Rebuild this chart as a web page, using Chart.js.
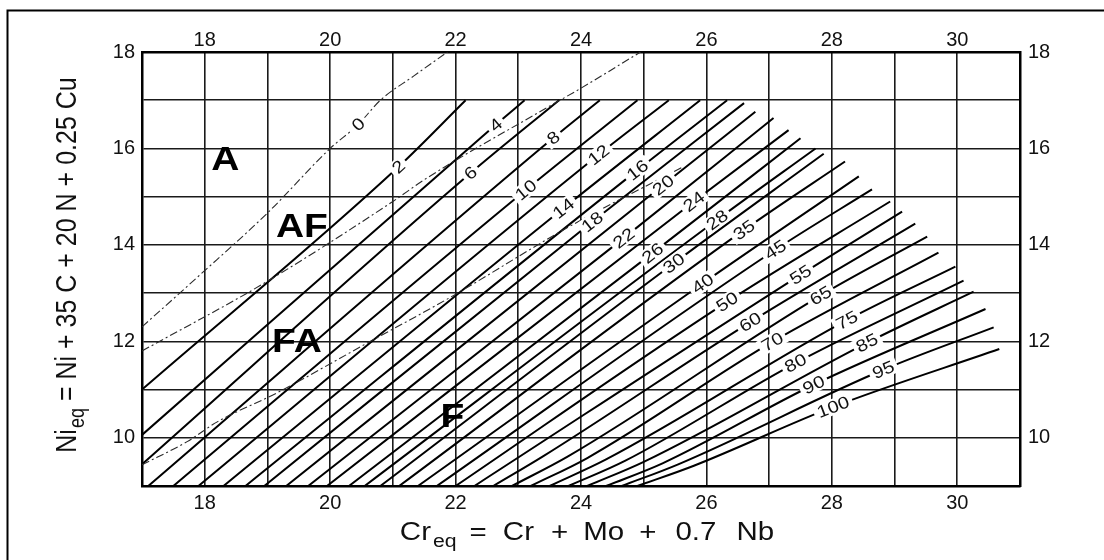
<!DOCTYPE html>
<html>
<head>
<meta charset="utf-8">
<script src="https://cdn.jsdelivr.net/npm/chart.js@4.4.1/dist/chart.umd.min.js"></script>
<style>
  html, body { margin: 0; padding: 0; background: #fff; }
  canvas { display: block; }
</style>
</head>
<body>
<canvas id="wrc" width="1104" height="560"></canvas>
<script>
// Iso-ferrite-number lines of the constitution diagram (Cr_eq vs Ni_eq).
const FN_LEVELS = [2, 4, 6, 8, 10, 12, 14, 16, 18, 20, 22, 24, 26, 28, 30,
                   35, 40, 45, 50, 55, 60, 65, 70, 75, 80, 85, 90, 95, 100];

// Where each line leaves the lower / left border.
const START_CR = [17, 17, 17, 17.1, 17.5, 17.9, 18.3, 18.65, 18.95, 19.3, 19.65, 19.95, 20.3, 20.55, 20.8,
                  21.1, 21.4, 21.7, 22.0, 22.3, 22.6, 22.9, 23.2, 23.5, 23.8, 24.1, 24.4, 24.65, 24.9];
const START_NI = [11.0, 10.06, 9.45, 9, 9, 9, 9, 9, 9, 9, 9, 9, 9, 9, 9,
                  9, 9, 9, 9, 9, 9, 9, 9, 9, 9, 9, 9, 9, 9];

// Lower bend of the high-FN lines, which run flatter near the bottom border (null = straight).
const BEND_CR = [null, null, null, null, null, null, null, null, null, null, null, null, null, null, null,
                 null, null, null, null, null, 23.4, 23.8, 24.1, 24.4, 24.7, 25.0, 25.3, 25.55, 25.8];
const BEND_NI = [null, null, null, null, null, null, null, null, null, null, null, null, null, null, null,
                 null, null, null, null, null, 9.62, 9.62, 9.58, 9.55, 9.52, 9.5, 9.47, 9.45, 9.42];

// Point on each line where its FN value is written.
const LABEL_CR = [21.09, 22.64, 22.24, 23.56, 23.12, 24.28, 23.72, 24.9, 24.18, 25.31, 24.68, 25.8, 25.14, 26.17, 25.48,
                  26.6, 25.94, 27.1, 26.33, 27.5, 26.7, 27.82, 27.05, 28.24, 27.42, 28.56, 27.71, 28.82, 28.02];
const LABEL_NI = [15.62, 16.49, 15.49, 16.22, 15.14, 15.87, 14.76, 15.55, 14.48, 15.24, 14.14, 14.9, 13.83, 14.52, 13.62,
                  14.31, 13.2, 13.9, 12.82, 13.38, 12.4, 12.95, 11.99, 12.44, 11.55, 11.97, 11.1, 11.41, 10.64];

// Upper-right end of each line.
const END_CR = [22.16, 23.1, 23.65, 24.3, 24.9, 25.4, 25.9, 26.33, 26.6, 26.78, 27.07, 27.31, 27.5, 27.74, 27.87,
                28.21, 28.43, 28.64, 28.93, 29.12, 29.33, 29.52, 29.7, 29.97, 30.1, 30.26, 30.45, 30.58, 30.67];
const END_NI = [17, 17, 17, 17, 17, 17, 17, 17.0, 16.94, 16.76, 16.63, 16.38, 16.21, 16.0, 15.89,
                15.73, 15.42, 15.15, 14.9, 14.69, 14.44, 14.17, 13.84, 13.55, 13.26, 13.03, 12.67, 12.29, 11.84];

// Solidification-mode boundaries (dash-dot curves).
const A_AF_CR = [17, 17.9, 19.0, 20.0, 20.45, 20.8, 21.33, 21.87];
const A_AF_NI = [12.3, 13.35, 14.66, 16.0, 16.5, 17.0, 17.5, 18.0];
const A_AF_LABEL_INDEX = 4;      // the "0" FN label sits on this vertex
const AF_FA_CR = [17, 18.94, 21.0, 21.5, 23.3, 24.0, 24.95];
const AF_FA_NI = [11.8, 13.2, 14.9, 15.35, 16.73, 17.25, 18.0];
const FA_F_CR = [17, 17.72, 18.2, 19.15, 20.6, 21.9, 23.8, 25.6];
const FA_F_NI = [9.44, 9.92, 10.33, 10.93, 11.97, 12.9, 14.37, 15.6];

// Solidification-mode region names.
const PHASE_NAMES = ['A', 'AF', 'FA', 'F'];
const PHASE_CR = [18.33, 19.55, 19.47, 21.95];
const PHASE_NI = [15.76, 14.38, 11.99, 10.43];

// Axis ranges and labelled ticks.
const CR_RANGE = [17, 31];
const NI_RANGE = [9, 18];
const CR_TICKS = [18, 20, 22, 24, 26, 28, 30];
const NI_TICKS = [10, 12, 14, 16, 18];

const FONT = '"Liberation Sans", Arial, Helvetica, sans-serif';
const STRETCH = 1.18;   // the printed lettering is slightly wide

function pts(xs, ys) { return xs.map((x, i) => ({ x: x, y: ys[i] })); }

const datasets = [];
[[A_AF_CR, A_AF_NI], [AF_FA_CR, AF_FA_NI], [FA_F_CR, FA_F_NI]].forEach(([xs, ys]) => {
  datasets.push({
    data: pts(xs, ys), showLine: true, borderColor: '#2a2a2a', borderWidth: 1.1,
    borderDash: [8, 3, 2, 3], pointRadius: 0, cubicInterpolationMode: 'monotone', fill: false
  });
});
const FIRST_FN = datasets.length;
const LABEL_VERTEX = [];
FN_LEVELS.forEach((fn, i) => {
  const line = [{ x: START_CR[i], y: START_NI[i] }];
  if (BEND_CR[i] !== null) line.push({ x: BEND_CR[i], y: BEND_NI[i] });
  LABEL_VERTEX.push(line.length);
  line.push({ x: LABEL_CR[i], y: LABEL_NI[i] });
  line.push({ x: END_CR[i], y: END_NI[i] });
  datasets.push({
    data: line, showLine: true, borderColor: '#000', borderWidth: 2, pointRadius: 0,
    cubicInterpolationMode: 'monotone', fill: false
  });
});

function tangentAngle(pt, prev, next) {
  if (pt.cp1x !== undefined && pt.cp2x !== undefined &&
      (pt.cp2x !== pt.cp1x || pt.cp2y !== pt.cp1y)) {
    return Math.atan2(pt.cp2y - pt.cp1y, pt.cp2x - pt.cp1x);
  }
  return Math.atan2(next.y - prev.y, next.x - prev.x);
}

function drawLineLabel(ctx, text, x, y, ang) {
  ctx.save();
  ctx.translate(x, y);
  ctx.rotate(ang);
  ctx.scale(STRETCH, 1);
  const w = ctx.measureText(text).width;
  ctx.fillStyle = '#fff';
  ctx.fillRect(-w / 2 - 3, -8, w + 6, 16);
  ctx.fillStyle = '#111';
  ctx.fillText(text, 0, 1);
  ctx.restore();
}

const decorations = {
  id: 'decorations',
  beforeDraw(chart) {
    const ctx = chart.ctx;
    ctx.save();
    ctx.fillStyle = '#fff';
    ctx.fillRect(0, 0, chart.width, chart.height);
    // page frame
    ctx.strokeStyle = '#000';
    ctx.lineWidth = 2;
    ctx.beginPath();
    ctx.moveTo(7.5, chart.height + 5);
    ctx.lineTo(7.5, 10.5);
    ctx.lineTo(chart.width + 5, 10.5);
    ctx.stroke();
    ctx.restore();
  },
  afterDatasetsDraw(chart) {
    const ctx = chart.ctx;
    const xs = chart.scales.x, ys = chart.scales.y;
    ctx.save();
    ctx.font = '17px ' + FONT;
    ctx.textAlign = 'center';
    ctx.textBaseline = 'middle';

    // FN value on every iso-ferrite line
    FN_LEVELS.forEach((fn, i) => {
      const el = chart.getDatasetMeta(FIRST_FN + i).data;
      const k = LABEL_VERTEX[i];
      drawLineLabel(ctx, String(fn), el[k].x, el[k].y, tangentAngle(el[k], el[k - 1], el[k + 1]));
    });
    // FN 0 on the austenite boundary
    const z = chart.getDatasetMeta(0).data;
    const k = A_AF_LABEL_INDEX;
    drawLineLabel(ctx, '0', z[k].x, z[k].y, tangentAngle(z[k], z[k - 1], z[k + 1]));

    // region names
    ctx.font = 'bold 33px ' + FONT;
    ctx.fillStyle = '#000';
    PHASE_NAMES.forEach((name, i) => {
      const px = xs.getPixelForValue(PHASE_CR[i]);
      const py = ys.getPixelForValue(PHASE_NI[i]);
      ctx.save();
      ctx.translate(px, py + 1);
      ctx.scale(STRETCH, 1);
      ctx.fillText(name, 0, 0);
      ctx.restore();
    });
    ctx.restore();
  },
  afterDraw(chart) {
    const ctx = chart.ctx;
    const area = chart.chartArea;
    ctx.save();
    ctx.fillStyle = '#111';
    ctx.textBaseline = 'alphabetic';
    ctx.textAlign = 'left';

    // x-axis title: Cr_eq = Cr + Mo + 0.7 Nb
    const big = '25px ' + FONT, sub = '18px ' + FONT;
    const xTokens = [['Cr', big, 0], ['eq', sub, 7], ['=', big, 0], ['Cr', big, 0], ['+', big, 0],
                     ['Mo', big, 0], ['+', big, 0], ['0.7', big, 0], ['Nb', big, 0]];
    const gaps = [2, 13, 16, 17, 15, 15, 19, 20];
    let widths = xTokens.map(t => { ctx.font = t[1]; return ctx.measureText(t[0]).width * STRETCH; });
    let total = widths.reduce((a, b) => a + b, 0) + gaps.reduce((a, b) => a + b, 0);
    let cx = (area.left + area.right) / 2 - total / 2 + 6;
    const base = area.bottom + 54;
    xTokens.forEach((t, i) => {
      ctx.font = t[1];
      ctx.save();
      ctx.translate(cx, base + t[2]);
      ctx.scale(STRETCH, 1);
      ctx.fillText(t[0], 0, 0);
      ctx.restore();
      cx += widths[i] + (i < gaps.length ? gaps[i] : 0);
    });

    // y-axis title: Ni_eq = Ni + 35 C + 20 N + 0.25 Cu
    ctx.save();
    ctx.translate(76, (area.top + area.bottom) / 2);
    ctx.rotate(-Math.PI / 2);
    ctx.scale(1, STRETCH);
    const yTokens = [['Ni', big, 0], ['eq', sub, 7], [' = Ni + 35 C + 20 N + 0.25 Cu', big, 0]];
    widths = yTokens.map(t => { ctx.font = t[1]; return ctx.measureText(t[0]).width; });
    total = widths.reduce((a, b) => a + b, 0) + 1;
    let cy = -total / 2 + 4;
    yTokens.forEach((t, i) => {
      ctx.font = t[1];
      ctx.fillText(t[0], cy, t[2]);
      cy += widths[i] + (i === 0 ? 1 : 0);
    });
    ctx.restore();
    ctx.restore();
  }
};

const tickFont = { family: FONT, size: 20 };
const evenCr = v => CR_TICKS.includes(v) ? String(v) : '';
const evenNi = v => NI_TICKS.includes(v) ? String(v) : '';

new Chart(document.getElementById('wrc'), {
  type: 'scatter',
  data: { datasets: datasets },
  options: {
    responsive: false,
    animation: false,
    events: [],
    layout: { padding: 0 },
    plugins: { legend: { display: false }, tooltip: { enabled: false } },
    scales: {
      x: {
        type: 'linear', position: 'bottom', min: CR_RANGE[0], max: CR_RANGE[1],
        ticks: { stepSize: 1, callback: evenCr, autoSkip: false, maxRotation: 0, color: '#111', font: tickFont, padding: 5 },
        grid: { color: '#1a1a1a', lineWidth: 1.6, drawTicks: false },
        border: { display: true, color: '#000', width: 2.5 },
        afterFit: s => { s.height = 74; }
      },
      x2: {
        type: 'linear', position: 'top', min: CR_RANGE[0], max: CR_RANGE[1],
        ticks: { stepSize: 1, callback: evenCr, autoSkip: false, maxRotation: 0, color: '#111', font: tickFont, padding: 0 },
        grid: { display: false, drawTicks: false },
        border: { display: true, color: '#000', width: 2.5 },
        afterFit: s => { s.height = 52; }
      },
      y: {
        type: 'linear', position: 'left', min: NI_RANGE[0], max: NI_RANGE[1],
        ticks: { stepSize: 1, callback: evenNi, autoSkip: false, color: '#111', font: tickFont, padding: 7 },
        grid: { color: '#1a1a1a', lineWidth: 1.6, drawTicks: false },
        border: { display: true, color: '#000', width: 2.5 },
        afterFit: s => { s.width = 142; }
      },
      y2: {
        type: 'linear', position: 'right', min: NI_RANGE[0], max: NI_RANGE[1],
        ticks: { stepSize: 1, callback: evenNi, autoSkip: false, color: '#111', font: tickFont, padding: 8 },
        grid: { display: false, drawTicks: false },
        border: { display: true, color: '#000', width: 2.5 },
        afterFit: s => { s.width = 84; }
      }
    }
  },
  plugins: [decorations]
});
</script>
</body>
</html>
